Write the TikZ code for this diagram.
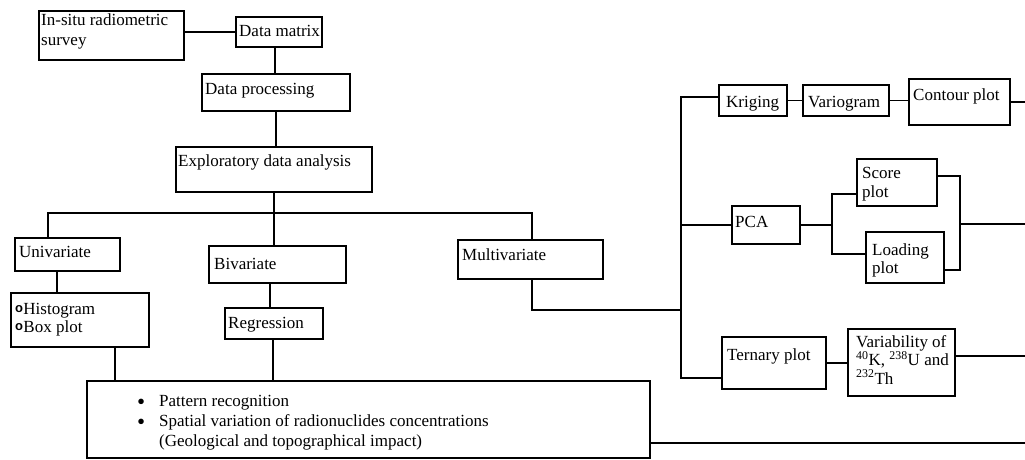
\documentclass[tikz,border=0pt]{standalone}
\usepackage{fontspec}
\setmainfont{Liberation Serif}
\newfontfamily\ringfont{Liberation Sans}
\newcommand\ringmark{\raisebox{2pt}{\ringfont\bfseries\fontsize{13}{13}\selectfont o}}
\newcommand\bulmark{\makebox[22pt][l]{\raisebox{-3.5pt}[0pt][0pt]{\fontsize{23}{20}\selectfont\textbullet}}}
\begin{document}
\begin{tikzpicture}[x=1pt,y=-1pt,
  bx/.style={draw, line width=1.9pt, inner sep=0pt, outer sep=0pt, anchor=north west},
  txt/.style={anchor=base west, inner sep=0pt, font=\fontsize{17}{19.5}\selectfont},
  ln/.style={line width=1.9pt}]
\useasboundingbox (0,0) rectangle (1025,460);
% boxes
\node[bx, minimum width=145pt, minimum height=49pt] (insitu) at (39,11) {};
\node[bx, minimum width=86pt, minimum height=30pt] (dm) at (236,17) {};
\node[bx, minimum width=148pt, minimum height=37pt] (dp) at (202,74) {};
\node[bx, minimum width=196pt, minimum height=45pt] (eda) at (176,147) {};
\node[bx, minimum width=105pt, minimum height=33pt] (uni) at (15,238) {};
\node[bx, minimum width=138pt, minimum height=54pt] (hist) at (11,293) {};
\node[bx, minimum width=137pt, minimum height=37pt] (biv) at (209,246) {};
\node[bx, minimum width=98pt, minimum height=31pt] (reg) at (225,308) {};
\node[bx, minimum width=145pt, minimum height=39pt] (multi) at (458,240) {};
\node[bx, minimum width=68pt, minimum height=31pt] (kri) at (719,85) {};
\node[bx, minimum width=86pt, minimum height=31pt] (var) at (803,85) {};
\node[bx, minimum width=101pt, minimum height=46pt] (con) at (909,79) {};
\node[bx, minimum width=68pt, minimum height=38pt] (pca) at (732,206) {};
\node[bx, minimum width=80pt, minimum height=47pt] (score) at (857,159) {};
\node[bx, minimum width=78pt, minimum height=51pt] (load) at (866,232) {};
\node[bx, minimum width=104pt, minimum height=52pt] (tern) at (722,337) {};
\node[bx, minimum width=107pt, minimum height=67pt] (vari) at (848,329) {};
\node[bx, minimum width=563pt, minimum height=77pt] (bot) at (87,381) {};
% texts
\node[txt] (t-insitu) at (41,26) {\parbox[t]{140pt}{In-situ radiometric\\survey}};
\node[txt] (t-dm) at (239,37) {Data matrix};
\node[txt] (t-dp) at (205,95) {Data processing};
\node[txt] (t-eda) at (178,166) {Exploratory data analysis};
\node[txt] (t-uni) at (19,257) {Univariate};
\node[txt, font=\fontsize{17}{18}\selectfont] (t-hist) at (15,314) {\parbox[t]{130pt}{\ringmark\hspace{0.3pt}Histogram\\\ringmark\hspace{0.3pt}Box plot}};
\node[txt] (t-biv) at (214,269) {Bivariate};
\node[txt] (t-reg) at (228,328) {Regression};
\node[txt] (t-multi) at (462,260) {Multivariate};
\node[txt] (t-kri) at (726,107) {Kriging};
\node[txt] (t-var) at (808,107) {Variogram};
\node[txt] (t-con) at (913,100) {Contour plot};
\node[txt] (t-pca) at (735,227) {PCA};
\node[txt] (t-score) at (862,178) {\parbox[t]{70pt}{Score\\plot}};
\node[txt, font=\fontsize{17}{18}\selectfont] (t-load) at (872,255) {\parbox[t]{70pt}{Loading\\plot}};
\node[txt] (t-tern) at (727,360) {Ternary plot};
\node[txt, font=\fontsize{17}{18.5}\selectfont] (t-vari) at (856,347) {\parbox[t]{100pt}{Variability of\\\textsuperscript{40}K, \textsuperscript{238}U and\\\textsuperscript{232}Th}};
\node[txt, font=\fontsize{17}{20}\selectfont] (t-bot) at (137,406) {\parbox[t]{480pt}{\bulmark Pattern recognition\\\bulmark Spatial variation of radionuclides concentrations\\\hspace*{22pt}(Geological and topographical impact)}};
% helper coordinates
\coordinate (barL) at (48,213);
\coordinate (barR) at (532,213);
\coordinate (mvc) at (532,310);
\coordinate (tTop) at (681,97);
\coordinate (tMid) at (681,310);
\coordinate (tBot) at (681,378);
\coordinate (pj) at (832,225);
\coordinate (rj) at (960,224);
\coordinate (edge) at (1025,0);
% connectors
\draw[ln] (insitu.east |- dm.west) -- (dm.west);
\draw[ln] (275,0 |- dm.south) -- (275,0 |- dp.north);
\draw[ln] (276,0 |- dp.south) -- (276,0 |- eda.north);
\draw[ln] (274,0 |- eda.south) -- (274,0 |- biv.north);
\draw[ln] (barL |- uni.north) -- (barL) -- (barR) -- (barR |- multi.north);
\draw[ln] (57,0 |- uni.south) -- (57,0 |- hist.north);
\draw[ln] (270,0 |- biv.south) -- (270,0 |- reg.north);
\draw[ln] (115,0 |- hist.south) -- (115,0 |- bot.north);
\draw[ln] (273,0 |- reg.south) -- (273,0 |- bot.north);
\draw[ln] (barR |- multi.south) -- (mvc) -- (tMid);
\draw[ln] (kri.west |- tTop) -- (tTop) -- (tBot) -- (tern.west |- tBot);
\draw[ln] (tTop |- pca.west) -- (pca.west);
\draw[ln] (kri.east) -- (var.west);
\draw[ln] (var.east) -- (con.west |- var.east);
\draw[ln] (con.east |- 0,102) -- (edge |- 0,102);
\draw[ln] (pca.east) -- (pj);
\draw[ln] (score.west |- 0,194) -- (pj |- 0,194) -- (pj |- 0,254) -- (load.west |- 0,254);
\draw[ln] (score.east |- 0,176) -- (rj |- 0,176) -- (rj |- 0,270) -- (load.east |- 0,270);
\draw[ln] (rj) -- (edge |- rj);
\draw[ln] (tern.east |- 0,363) -- (vari.west |- 0,363);
\draw[ln] (vari.east |- 0,356) -- (edge |- 0,356);
\draw[ln] (bot.east |- 0,443) -- (edge |- 0,443);
\end{tikzpicture}
\end{document}
